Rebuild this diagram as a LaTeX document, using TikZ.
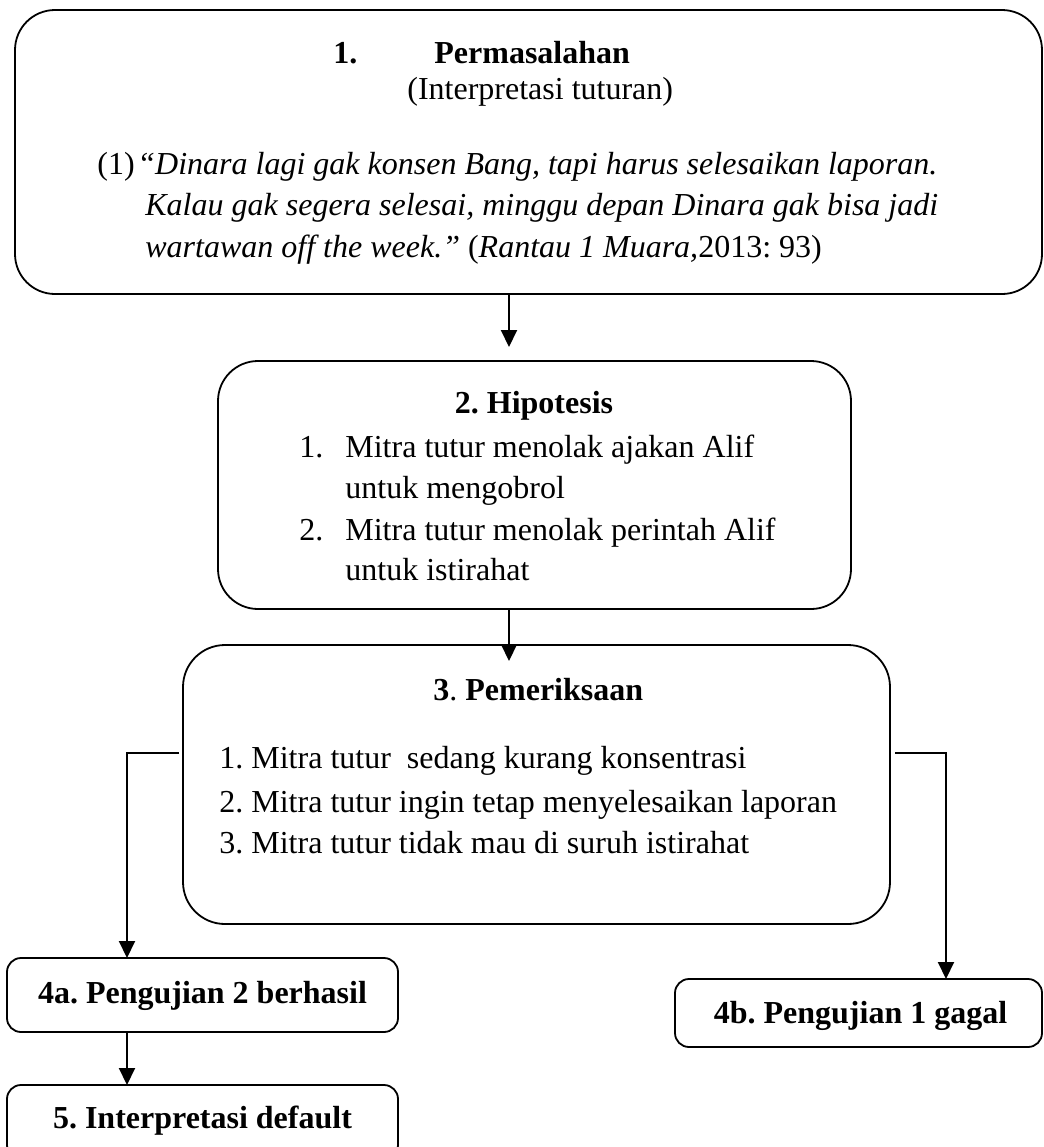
\documentclass[tikz,border=0pt]{standalone}
\usepackage{fontspec}
\setmainfont{Liberation Serif}
\usepackage{tikz}
\usetikzlibrary{positioning,arrows.meta}
\frenchspacing

\begin{document}
\begin{tikzpicture}[x=0.5pt,y=-0.5pt]
        % Style untuk kotak, teks dan panah
        \tikzstyle{kotak} = [
            draw=black,
            line width=0.9pt,
            rounded corners=20pt,
            inner sep=0pt,
            outer sep=0pt
        ]
        \tikzstyle{kotakkecil} = [kotak, rounded corners=7pt]
        \tikzstyle{teks} = [inner sep=0pt, anchor=base west, font=\fontsize{16}{20}\selectfont]
        \tikzstyle{judul} = [teks, font=\fontsize{16}{20}\selectfont\bfseries]
        \tikzstyle{panah} = [line width=1pt, -{Triangle[length=8.5pt,width=8pt]}]

        \clip (0,0) rectangle (1044,1147);

        % Kotak 1 - 5
        \node[kotak, minimum width=513.5pt, minimum height=142pt] (b1) at (528.5,152) {};
        \node[kotak, minimum width=316.5pt, minimum height=124pt] (b2) at (534.5,485) {};
        \node[kotak, rounded corners=21pt, minimum width=353.5pt, minimum height=139.5pt] (b3) at (536.5,784.5) {};
        \node[kotakkecil, minimum width=195.5pt, minimum height=37pt] (b4a) at (202.5,995) {};
        \node[kotakkecil, minimum width=183.5pt, minimum height=34pt] (b4b) at (858.5,1013) {};
        \node[kotakkecil, minimum width=195.5pt, minimum height=37pt] (b5) at (202.5,1122) {};

        % 1. Permasalahan
        \node[judul] (t1) at (333,63) {1.\hspace{38.5pt}Permasalahan};
        \node[teks] (t1b) at (407,99) {(Interpretasi tuturan)};
        \node[teks] (q0) at (97,174) {(1)};
        \node[teks] (q1) at (137,174) {\itshape “Dinara lagi gak konsen Bang, tapi harus selesaikan laporan.};
        \node[teks] (q2) at (145,215) {\itshape Kalau gak segera selesai, minggu depan Dinara gak bisa jadi};
        \node[teks] (q3) at (145,257) {{\itshape wartawan off the week.”} (\textit{Rantau 1 Muara,}2013: 93)};

        % 2. Hipotesis
        \node[judul, anchor=base] (t2) at (534,413) {2. Hipotesis};
        \node[teks] (h1) at (299,457) {1.};
        \node[teks] (h1a) at (345,457) {Mitra tutur menolak ajakan Alif};
        \node[teks] (h1b) at (345,498) {untuk mengobrol};
        \node[teks] (h2) at (299,540) {2.};
        \node[teks] (h2a) at (345,540) {Mitra tutur menolak perintah Alif};
        \node[teks] (h2b) at (345,580) {untuk istirahat};

        % 3. Pemeriksaan
        \node[teks] (t3) at (433,700) {\textbf{3}. \textbf{Pemeriksaan}};
        \foreach \no/\isi/\y in {1/Mitra tutur~ sedang kurang konsentrasi/768,
                                 2/Mitra tutur ingin tetap menyelesaikan laporan/812,
                                 3/Mitra tutur tidak mau di suruh istirahat/853} {
            \node[teks] (p\no) at (219,\y) {\no. \isi};
        }

        % 4a, 4b, 5
        \node[judul, anchor=base] (t4a) at (202.5,1003) {4a. Pengujian 2 berhasil};
        \node[judul, anchor=base] (t4b) at (860.5,1023) {4b. Pengujian 1 gagal};
        \node[judul, anchor=base] (t5) at (202.5,1128) {5. Interpretasi default};

        % Panah
        \coordinate (xa) at (509,0);
        \coordinate (xl) at (127,0);
        \coordinate (xr) at (946,0);
        \coordinate (yc) at (0,753);
        \draw[panah, shorten >=7pt] (b1.south -| xa) -- (b2.north -| xa);
        \draw[panah, shorten >=-8pt] (b2.south -| xa) -- (b3.north -| xa);
        \draw[panah] ([xshift=-2pt]b3.west |- yc) -- (xl |- yc) -- (b4a.north -| xl);
        \draw[panah] ([xshift=2.5pt]b3.east |- yc) -- (xr |- yc) -- (b4b.north -| xr);
        \draw[panah] (b4a.south -| xl) -- (b5.north -| xl);
    \end{tikzpicture}
\end{document}
